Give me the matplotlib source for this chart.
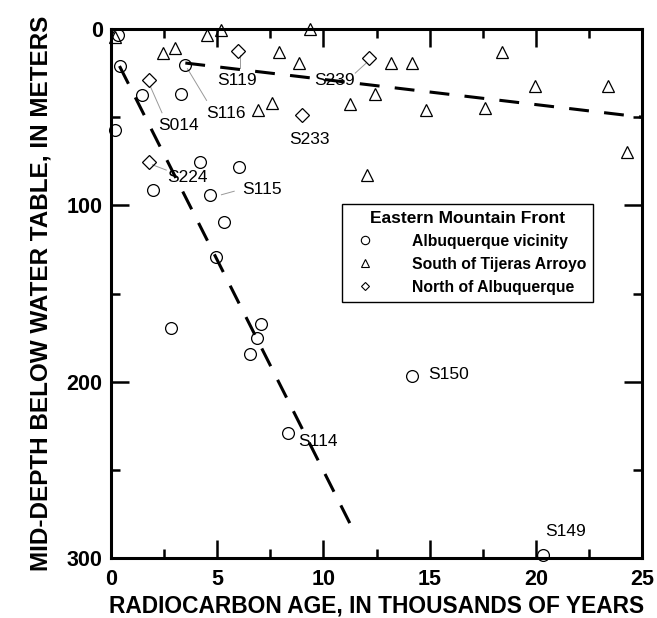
import numpy as np
import matplotlib
matplotlib.use("Agg")
import matplotlib.pyplot as plt
from matplotlib.lines import Line2D

plt.rcParams['font.family'] = ['Liberation Sans', 'DejaVu Sans']

# Albuquerque vicinity (circles): age (ka), depth (m)
abq_age = [0.33, 0.42, 0.19, 1.46, 3.48, 3.3, 4.19, 6.03, 1.98, 4.66, 5.32,
           4.94, 2.82, 7.06, 6.87, 6.54, 8.33, 14.17, 20.34]
abq_depth = [3.4, 21, 57.3, 37.4, 20.4, 36.9, 75.4, 78.3, 91.3, 94.2, 109.5,
             129.3, 169.6, 167.3, 175.3, 184.3, 229.2, 196.8, 298.4]

# South of Tijeras Arroyo (triangles)
tij_age = [0.19, 2.45, 3.0, 4.5, 5.18, 9.37, 7.9, 8.85, 6.93, 7.58, 11.25,
           12.43, 12.05, 13.2, 14.17, 18.4, 19.96, 23.4, 14.83, 17.6, 24.3]
tij_depth = [4.5, 13.6, 10.8, 3.4, 0.6, 0.0, 13, 19.3, 46, 42, 42.5,
             36.9, 82.8, 19.3, 19.3, 13, 32.3, 32.3, 46, 44.8, 69.8]

# North of Albuquerque (diamonds)
nab_age = [5.98, 1.79, 8.99, 12.15, 1.79]
nab_depth = [12.5, 28.9, 48.8, 16.4, 75.4]

# trend lines (endpoints)
steep_x = [0.4, 11.4]
steep_y = [21, 284]
flat_x = [3.5, 25]
flat_y = [19.3, 50]

# sample labels: name, label position, leader start (point) or None
label_names = ['S119', 'S239', 'S116', 'S014', 'S233', 'S224', 'S115', 'S114', 'S150', 'S149']
label_x = [5.93, 10.5, 5.41, 3.2, 9.32, 3.62, 7.1, 9.75, 15.87, 21.4]
label_y = [29.0, 29.0, 47.8, 54.5, 62.4, 84.0, 91.0, 234.0, 196.0, 285.0]
leader_from = [(6.05, 14.5), (12.0, 19.5), (3.6, 22.5), (1.85, 32.5), None,
               (1.95, 77.0), (5.2, 94.0), None, None, None]
leader_to = [(6.05, 22.0), (11.5, 25.0), (4.5, 40.5), (2.4, 47.5), None,
             (2.6, 80.0), (5.8, 92.0), None, None, None]

fig = plt.figure(figsize=(6.57, 6.18), dpi=100)
ax = fig.add_axes([111 / 657, 1 - 558 / 618, 531 / 657, 529 / 618])

ax.plot(steep_x, steep_y, color='black', lw=2.2, dashes=(6.5, 5), zorder=2)
ax.plot(flat_x, flat_y, color='black', lw=2.2, dashes=(6.5, 5), zorder=2)

for lx0, lx1 in zip(leader_from, leader_to):
    if lx0 is not None:
        ax.plot([lx0[0], lx1[0]], [lx0[1], lx1[1]], color='#999999', lw=0.7, zorder=1)

ms = 8.5
ax.plot(abq_age, abq_depth, 'o', ms=ms, mfc='none', mec='black', mew=0.9,
        clip_on=False, zorder=3)
ax.plot(tij_age, tij_depth, '^', ms=ms, mfc='none', mec='black', mew=0.9,
        clip_on=False, zorder=3)
ax.plot(nab_age, nab_depth, 'D', ms=ms * 0.8, mfc='none', mec='black', mew=0.9,
        clip_on=False, zorder=3)

for name, x, y in zip(label_names, label_x, label_y):
    ax.text(x, y, name, fontsize=12.5, ha='center', va='center', zorder=4)

ax.set_xlim(0, 25)
ax.set_ylim(300, 0)
ax.set_xticks([0, 5, 10, 15, 20, 25])
ax.set_xticks(np.arange(2.5, 25, 5), minor=True)
ax.set_yticks([0, 100, 200, 300])
ax.set_yticks([50, 150, 250], minor=True)
ax.tick_params(which='both', direction='in', top=True, right=True, width=1.8)
ax.tick_params(which='major', length=13, labelsize=15.5, pad=6)
ax.tick_params(axis='x', which='major', pad=8)
ax.tick_params(which='minor', length=6.5)
for lab in ax.get_xticklabels() + ax.get_yticklabels():
    lab.set_fontweight('bold')
for sp in ax.spines.values():
    sp.set_linewidth(2.2)

ax.set_xlabel('RADIOCARBON AGE, IN THOUSANDS OF YEARS', fontsize=16.4,
              fontweight='bold', labelpad=3)
ax.set_ylabel('MID-DEPTH BELOW WATER TABLE, IN METERS', fontsize=17.5,
              fontweight='bold', labelpad=10)

handles = [
    Line2D([], [], ls='none', marker='o', ms=6, mfc='none', mec='black', mew=0.8),
    Line2D([], [], ls='none', marker='^', ms=6, mfc='none', mec='black', mew=0.8),
    Line2D([], [], ls='none', marker='D', ms=4.5, mfc='none', mec='black', mew=0.8),
]
leg = ax.legend(handles, ['Albuquerque vicinity', 'South of Tijeras Arroyo',
                          'North of Albuquerque'],
                title='Eastern Mountain Front', loc='upper left',
                bbox_to_anchor=((342 - 111) / 531, 1 - (204 - 29) / 529),
                borderaxespad=0,
                prop={'weight': 'bold', 'size': 11.3},
                title_fontproperties={'size': 12.5, 'weight': 'bold'},
                fancybox=False, edgecolor='black', framealpha=1,
                handletextpad=2.0, labelspacing=0.5, borderpad=0.45)
leg.get_frame().set_linewidth(1.0)

fig.savefig('out.png', dpi=100)
